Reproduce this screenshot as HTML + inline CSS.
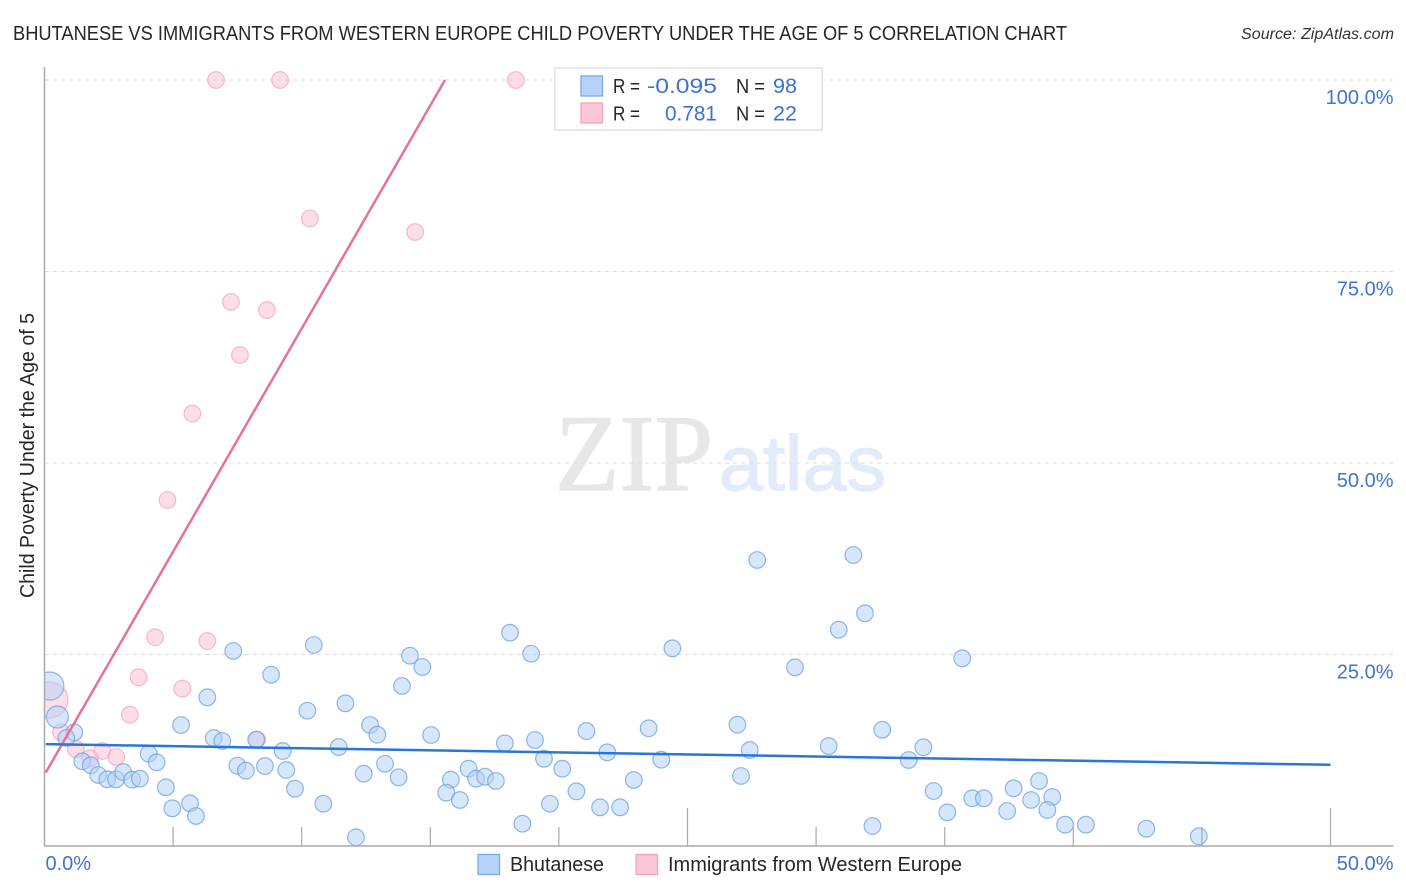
<!DOCTYPE html>
<html lang="en">
<head>
<meta charset="utf-8">
<title>Bhutanese vs Immigrants from Western Europe Child Poverty Under the Age of 5 Correlation Chart</title>
<style>
  html, body { margin: 0; padding: 0; background: #fff; }
  body { width: 1406px; height: 892px; overflow: hidden; }
  svg { display: block; font-family: "Liberation Sans", sans-serif; }
</style>
</head>
<body>
<svg id="chart" width="1406" height="892" viewBox="0 0 1406 892" xmlns="http://www.w3.org/2000/svg">
  <rect x="0" y="0" width="1406" height="892" fill="#ffffff"></rect>

  <text x="13" y="40" font-size="20" fill="#262626" textLength="1054" lengthAdjust="spacingAndGlyphs">BHUTANESE VS IMMIGRANTS FROM WESTERN EUROPE CHILD POVERTY UNDER THE AGE OF 5 CORRELATION CHART</text>
  <text x="1241" y="39" font-size="15.5" font-style="italic" fill="#333333" textLength="153" lengthAdjust="spacingAndGlyphs">Source: ZipAtlas.com</text>

  <g>
    <text x="555" y="490" font-family="'Liberation Serif', serif" font-size="109" fill="#e7e7e7" stroke="#e7e7e7" stroke-width="1.2" textLength="158" lengthAdjust="spacingAndGlyphs">ZIP</text>
    <text x="719" y="490" font-size="78" fill="#e1ebf9" stroke="#e1ebf9" stroke-width="1.2" textLength="167" lengthAdjust="spacingAndGlyphs">atlas</text>
  </g>

  <g id="grid"></g>
  <g id="pink-points"></g>
  <g id="blue-points"></g>
  <rect x="0" y="60" width="44.5" height="790" fill="#ffffff"></rect>
  <g id="trends"></g>
  <g id="axes"></g>

  <text transform="translate(34,598) rotate(-90)" font-size="20" fill="#262626" textLength="285" lengthAdjust="spacingAndGlyphs">Child Poverty Under the Age of 5</text>

  <g>
    <rect x="554.75" y="68" width="267.5" height="62" fill="#ffffff" stroke="#e2e2e2" stroke-width="1.5"></rect>
    <rect x="581" y="76" width="21.5" height="20" fill="#b7d3f7" stroke="#7aabe0" stroke-width="1.3"></rect>
    <rect x="581" y="103" width="21.5" height="20" fill="#fcc7d8" stroke="#f2a5bf" stroke-width="1.3"></rect>
    <text x="613" y="93" font-size="20" fill="#262626" textLength="27" lengthAdjust="spacingAndGlyphs">R =</text>
    <text x="647" y="93" font-size="21.5" fill="#3b72d2" textLength="70" lengthAdjust="spacingAndGlyphs">-0.095</text>
    <text x="736" y="93" font-size="20" fill="#262626" textLength="29" lengthAdjust="spacingAndGlyphs">N =</text>
    <text x="773" y="93" font-size="21.5" fill="#3b72d2" textLength="24" lengthAdjust="spacingAndGlyphs">98</text>
    <text x="613" y="120.5" font-size="20" fill="#262626" textLength="27" lengthAdjust="spacingAndGlyphs">R =</text>
    <text x="665" y="120.5" font-size="21.5" fill="#3b72d2" textLength="52" lengthAdjust="spacingAndGlyphs">0.781</text>
    <text x="736" y="120.5" font-size="20" fill="#262626" textLength="29" lengthAdjust="spacingAndGlyphs">N =</text>
    <text x="773" y="120.5" font-size="21.5" fill="#3b72d2" textLength="24" lengthAdjust="spacingAndGlyphs">22</text>
  </g>

  <g>
    <rect x="478" y="854.5" width="21.5" height="20" fill="#b7d3f7" stroke="#7aabe0" stroke-width="1.3"></rect>
    <text x="510" y="871" font-size="20" fill="#262626" textLength="94" lengthAdjust="spacingAndGlyphs">Bhutanese</text>
    <rect x="636" y="854.5" width="21.5" height="20" fill="#fcc7d8" stroke="#f2a5bf" stroke-width="1.3"></rect>
    <text x="668" y="871" font-size="20" fill="#262626" textLength="294" lengthAdjust="spacingAndGlyphs">Immigrants from Western Europe</text>
  </g>

<script>
const blueX = [0.21,0.50,1.16,0.85,1.47,1.80,2.09,2.44,2.78,3.06,3.41,3.71,4.05,4.36,4.72,5.66,4.97,5.89,5.31,6.33,7.34,8.81,6.58,6.91,7.50,7.83,8.57,8.23,9.26,9.40,9.74,10.84,10.22,10.47,11.44,11.70,12.11,12.66,12.94,12.41,13.24,13.77,13.90,14.21,14.69,15.03,15.80,15.62,16.15,16.49,16.78,17.13,17.55,17.90,18.10,18.58,18.92,19.07,19.42,19.65,20.13,20.68,21.07,21.60,21.88,22.38,22.91,23.49,23.98,24.41,27.71,31.45,31.90,30.88,29.18,26.94,27.42,27.08,30.49,32.57,34.17,33.60,32.19,35.68,34.57,35.10,36.07,36.52,37.68,37.43,38.36,38.67,39.18,38.99,39.68,40.49,42.84,44.88];
const blueY = [20.89,16.84,14.84,14.10,11.06,10.54,9.27,8.71,8.71,9.66,8.66,8.79,12.05,10.93,7.66,5.57,4.92,3.92,15.80,19.41,25.46,22.36,14.10,13.71,10.48,9.83,10.44,13.88,12.40,9.92,7.48,5.52,17.66,26.24,12.92,18.63,1.14,15.80,14.53,9.44,10.74,8.97,20.89,24.84,23.37,14.49,8.66,6.96,6.01,10.09,8.79,9.05,8.49,13.41,27.85,2.91,25.10,13.84,11.40,5.52,10.09,7.14,15.01,5.05,12.23,5.05,8.62,15.37,11.27,25.81,37.34,37.99,30.38,28.24,23.33,15.84,12.53,9.14,13.05,15.18,12.89,11.23,2.61,24.50,7.18,4.40,6.23,6.23,7.53,4.57,6.01,8.49,6.40,4.70,2.78,2.78,2.26,1.27];
const pinkX = [6.67,9.16,18.33,10.32,14.41,7.25,8.65,7.60,5.75,4.78,4.30,6.33,3.66,5.36,3.32,0.21,0.64,1.22,1.77,2.25,2.79,8.27];
const pinkY = [100,100,100,81.92,80.16,71.02,69.97,64.10,56.46,45.17,27.25,26.76,22.02,20.54,17.14,19.06,14.84,12.66,11.45,12.40,11.62,13.88];
const blueTrendX = [0.05, 50];
const blueTrendY = [13.3, 10.6];
const pinkTrendX = [0.05, 15.57];
const pinkTrendY = [9.6, 100];
const xTickValues = [0,5,10,15,20,25,30,35,40,45,50];
const xEndLabels = ["0.0%","50.0%"];
const yTickValues = [25,50,75,100];
const yTickLabels = ["25.0%","50.0%","75.0%","100.0%"];

const NS = "http://www.w3.org/2000/svg";
function sx(v) { return 44.5 + v * 25.72; }
function sy(v) { return 846 - v * 7.66; }
function make(tag, parentId, attrs) {
  const el = document.createElementNS(NS, tag);
  for (const k in attrs) el.setAttribute(k, attrs[k]);
  document.getElementById(parentId).appendChild(el);
  return el;
}
function radiusFor(series, i) {
  if (series === "blue" && i === 0) return 14;
  if (series === "blue" && i === 1) return 11;
  if (series === "pink" && i === 15) return 18;
  return 8.3;
}

yTickValues.forEach(function (v, i) {
  const line = make("line", "grid", { x1: 45, x2: 1394, y1: sy(v), y2: sy(v), stroke: "#dddddd", "stroke-width": 1, "stroke-dasharray": "4 4" });
  
  
  const lab = make("text", "axes", { x: 1393.5, y: sy(v) + 24, "text-anchor": "end", "font-size": 20, fill: "#3f73d4" });
  
  
  lab.textContent = yTickLabels[i];
});

pinkX.forEach(function (x, i) {
  const c = make("circle", "pink-points", { cx: sx(x), cy: sy(pinkY[i]), r: radiusFor("pink", i), fill: "#fbbed2", "fill-opacity": 0.5, stroke: "#f2a2bc", "stroke-opacity": 0.75, "stroke-width": 1.2 });
  
  
});

blueX.forEach(function (x, i) {
  const c = make("circle", "blue-points", { cx: sx(x), cy: sy(blueY[i]), r: radiusFor("blue", i), fill: "#b3d1f7", "fill-opacity": 0.52, stroke: "#6a9fe2", "stroke-opacity": 0.75, "stroke-width": 1.2 });
  
  
});

const pinkLine = make("line", "trends", { x1: sx(pinkTrendX[0]), y1: sy(pinkTrendY[0]), x2: sx(pinkTrendX[1]), y2: sy(pinkTrendY[1]), stroke: "#e8709c", "stroke-width": 2.5 });


const blueLine = make("line", "trends", { x1: sx(blueTrendX[0]), y1: sy(blueTrendY[0]), x2: sx(blueTrendX[1]), y2: sy(blueTrendY[1]), stroke: "#2a75d8", "stroke-width": 2.5 });



const yAxis = make("line", "axes", { x1: 44.5, x2: 44.5, y1: 67, y2: 846, stroke: "#aaaaaa", "stroke-width": 1.5 });


const xAxis = make("line", "axes", { x1: 44, x2: 1393.5, y1: 846, y2: 846, stroke: "#aaaaaa", "stroke-width": 1.5 });



xTickValues.forEach(function (v) {
  if (v === 0) return;
  const tall = v % 25 === 0;
  const t = make("line", "axes", { x1: sx(v), x2: sx(v), y1: tall ? 808 : 827, y2: 846, stroke: "#aaaaaa", "stroke-width": 1.2 });
  
  
});

const xLow = make("text", "axes", { x: 45.5, y: 870, "font-size": 20, fill: "#3f73d4" });


xLow.textContent = xEndLabels[0];
const xHigh = make("text", "axes", { x: 1393.5, y: 870, "text-anchor": "end", "font-size": 20, fill: "#3f73d4" });


xHigh.textContent = xEndLabels[1];
</script>
</svg>
</body>
</html>
